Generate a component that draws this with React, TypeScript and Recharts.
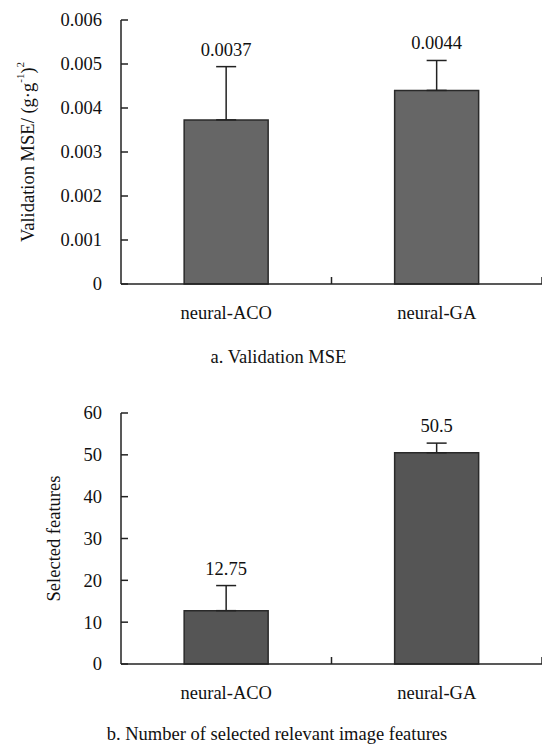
import { BarChart, Bar, XAxis, YAxis, ErrorBar, LabelList } from "recharts";

// categories and values
const methods = ["neural-ACO", "neural-GA"];

const mseValues = [0.00373, 0.0044];
const mseErrors = [0.00121, 0.00068];
const mseLabels = ["0.0037", "0.0044"];
const mseTicks = [0, 0.001, 0.002, 0.003, 0.004, 0.005, 0.006];

const featureValues = [12.75, 50.5];
const featureErrors = [6.0, 2.3];
const featureLabels = ["12.75", "50.5"];
const featureTicks = [0, 10, 20, 30, 40, 50, 60];

const W = 542;
const Y_AXIS_W = 121;
const FONT = "Liberation Serif, DejaVu Serif, serif";
const FS = 18.5;
const INK = "#222";
const BAND = (W - Y_AXIS_W) / methods.length;

const mseData = methods.map((m, i) => ({
  name: m,
  value: mseValues[i],
  err: [0, mseErrors[i]],
}));

const featureData = methods.map((m, i) => ({
  name: m,
  value: featureValues[i],
  err: [0, featureErrors[i]],
}));

// y ticks: label on the left, small tick pointing into the plot
const YTick = (props: any) => {
  const { x, y, payload, fmt } = props;
  return (
    <g>
      <line x1={Y_AXIS_W} y1={y} x2={Y_AXIS_W + 7} y2={y} stroke={INK} strokeWidth={1.5} />
      <text x={x} y={y} dy="0.35em" textAnchor="end" fill="#111" style={{ fontFamily: FONT, fontSize: FS }}>
        {fmt(payload.value)}
      </text>
    </g>
  );
};

// x ticks: category name + inward tick at the right edge of each band
const XTick = (props: any) => {
  const { x, y, payload } = props;
  const edge = x + BAND / 2;
  return (
    <g>
      <line x1={edge} y1={y} x2={edge} y2={y - 7} stroke={INK} strokeWidth={1.5} />
      <text x={x} y={y + 35} textAnchor="middle" fill="#111" style={{ fontFamily: FONT, fontSize: FS }}>
        {payload.value}
      </text>
    </g>
  );
};

const makeValueLabel = (errs: number[], labels: string[]) => (props: any) => {
  const { x, y, width, height, value, index } = props;
  const errPx = value ? (height * errs[index]) / value : 0;
  return (
    <text
      x={x + width / 2}
      y={y - errPx - 11}
      textAnchor="middle"
      fill="#111"
      style={{ fontFamily: FONT, fontSize: FS }}
    >
      {labels[index]}
    </text>
  );
};

const MseAxisLabel = (props: any) => {
  const { viewBox } = props;
  const cx = 28;
  const cy = viewBox.y + viewBox.height / 2;
  return (
    <text
      x={cx}
      y={cy}
      transform={`rotate(-90 ${cx} ${cy})`}
      textAnchor="middle"
      dominantBaseline="central"
      fill="#111"
      style={{ fontFamily: FONT, fontSize: FS }}
    >
      Validation MSE/ (g·g
      <tspan style={{ fontSize: 11 }} dy={-8}>-1</tspan>
      <tspan dy={8}>)</tspan>
      <tspan style={{ fontSize: 11 }} dy={-8}>2</tspan>
    </text>
  );
};

const FeatureAxisLabel = (props: any) => {
  const { viewBox } = props;
  const cx = 54;
  const cy = viewBox.y + viewBox.height / 2;
  return (
    <text
      x={cx}
      y={cy}
      transform={`rotate(-90 ${cx} ${cy})`}
      textAnchor="middle"
      dominantBaseline="central"
      fill="#111"
      style={{ fontFamily: FONT, fontSize: FS }}
    >
      Selected features
    </text>
  );
};

const captionStyle = (centerX: number, top: number): React.CSSProperties => ({
  position: "absolute",
  left: centerX - 250,
  width: 500,
  top,
  textAlign: "center",
  fontFamily: FONT,
  fontSize: FS,
  lineHeight: `${FS}px`,
  color: "#111",
  whiteSpace: "nowrap",
});

export default function App() {
  return (
    <div
      style={{
        position: "absolute",
        left: 0,
        top: 0,
        width: W,
        height: 746,
        overflow: "hidden",
        background: "#fff",
        fontFamily: FONT,
      }}
    >
      <div style={{ position: "absolute", left: 0, top: 0 }}>
        <BarChart
          width={W}
          height={375}
          data={mseData}
          margin={{ top: 20, right: 0, left: 0, bottom: 61 }}
          barCategoryGap="30%"
        >
          <XAxis
            dataKey="name"
            height={30}
            tickLine={false}
            tickSize={0}
            tickMargin={0}
            tick={<XTick />}
            axisLine={{ stroke: INK, strokeWidth: 1.5 }}
          />
          <YAxis
            width={Y_AXIS_W}
            domain={[0, 0.006]}
            ticks={mseTicks}
            interval={0}
            tickLine={false}
            tickSize={0}
            tickMargin={19}
            tick={<YTick fmt={(v: number) => (v === 0 ? "0" : v.toFixed(3))} />}
            axisLine={{ stroke: INK, strokeWidth: 1.5 }}
            label={<MseAxisLabel />}
          />
          <Bar
            dataKey="value"
            fill="#666666"
            stroke="#2a2a2a"
            strokeWidth={1.5}
            isAnimationActive={false}
          >
            <ErrorBar
              dataKey="err"
              direction="y"
              width={10}
              stroke={INK}
              strokeWidth={1.5}
              isAnimationActive={false}
            />
            <LabelList dataKey="value" content={makeValueLabel(mseErrors, mseLabels)} />
          </Bar>
        </BarChart>
      </div>

      <div style={captionStyle(278.5, 347.5)}>a. Validation MSE</div>

      <div style={{ position: "absolute", left: 0, top: 375 }}>
        <BarChart
          width={W}
          height={371}
          data={featureData}
          margin={{ top: 38, right: 0, left: 0, bottom: 52 }}
          barCategoryGap="30%"
        >
          <XAxis
            dataKey="name"
            height={30}
            tickLine={false}
            tickSize={0}
            tickMargin={0}
            tick={<XTick />}
            axisLine={{ stroke: INK, strokeWidth: 1.5 }}
          />
          <YAxis
            width={Y_AXIS_W}
            domain={[0, 60]}
            ticks={featureTicks}
            interval={0}
            tickLine={false}
            tickSize={0}
            tickMargin={19}
            tick={<YTick fmt={(v: number) => String(v)} />}
            axisLine={{ stroke: INK, strokeWidth: 1.5 }}
            label={<FeatureAxisLabel />}
          />
          <Bar
            dataKey="value"
            fill="#555555"
            stroke="#2a2a2a"
            strokeWidth={1.5}
            isAnimationActive={false}
          >
            <ErrorBar
              dataKey="err"
              direction="y"
              width={10}
              stroke={INK}
              strokeWidth={1.5}
              isAnimationActive={false}
            />
            <LabelList dataKey="value" content={makeValueLabel(featureErrors, featureLabels)} />
          </Bar>
        </BarChart>
      </div>

      <div style={captionStyle(277, 725)}>b. Number of selected relevant image features</div>
    </div>
  );
}
